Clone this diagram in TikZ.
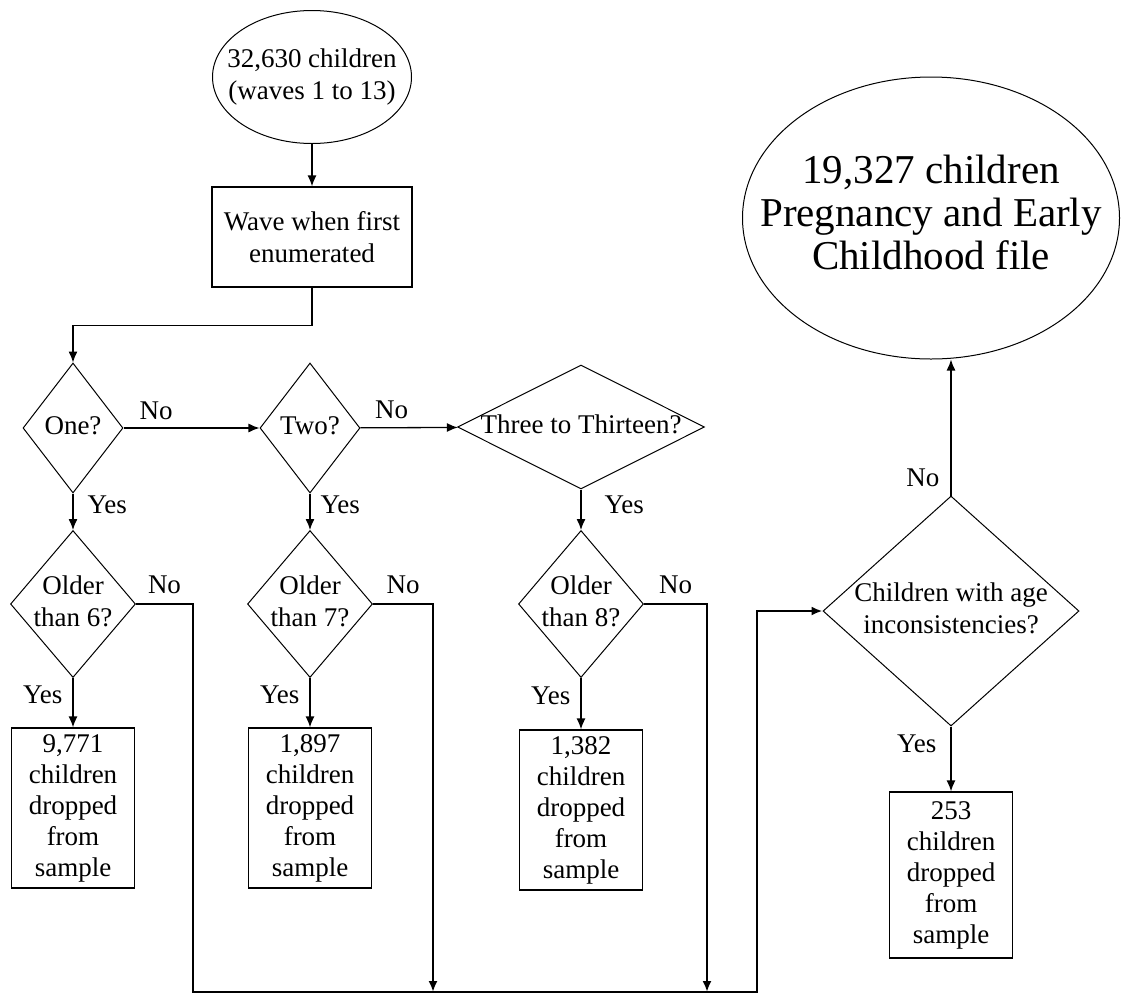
\documentclass[tikz,border=0pt]{standalone}
\usepackage{fontspec}
\setmainfont{Liberation Serif}
\usetikzlibrary{shapes.geometric,arrows.meta}
\definecolor{black}{RGB}{0,0,0}
\newcommand{\flattext}[1]{\makebox[0pt]{\begin{tabular}{@{}c@{}}#1\end{tabular}}}

\begin{document}
\begin{tikzpicture}[x=1pt,y=-1pt,
	every node/.style={font=\fontsize{27}{32}\selectfont},
	decision/.style={diamond,draw=black,line width=1pt,inner sep=0pt},
	process/.style={rectangle,draw=black,line width=1.3pt,align=center,inner sep=2pt},
	dropbox/.style={process,font=\fontsize{27}{31}\selectfont,minimum width=123pt},
	terminal/.style={ellipse,draw=black,line width=1pt,inner sep=0pt},
	tip/.style={-{Latex[length=11pt,width=9pt]}},
	arr/.style={black,line width=1.3pt,tip},
	noline/.style={black,line width=2.4pt},
	lbl/.style={inner sep=3pt}]
	\useasboundingbox (0,0) rectangle (1121,994);

	\node[terminal,minimum width=199pt,minimum height=133pt] (start) at (312,77) {\flattext{32,630 children\\(waves 1 to 13)}};
	\node[process,minimum width=200pt,minimum height=100pt] (wave) at (312,237) {Wave when first\\enumerated};

	\node[decision,minimum width=100pt,minimum height=130pt] (one) at (73,428) {\flattext{One?}};
	\node[decision,minimum width=100pt,minimum height=130pt] (two) at (310,428) {\flattext{Two?}};
	\node[decision,minimum width=247pt,minimum height=124pt] (three) at (581,427) {\flattext{Three to Thirteen?}};

	\node[decision,minimum width=125pt,minimum height=147pt] (older6) at (73,604) {\flattext{Older\\than 6?}};
	\node[decision,minimum width=125pt,minimum height=147pt] (older7) at (310,604) {\flattext{Older\\than 7?}};
	\node[decision,minimum width=125pt,minimum height=147pt] (older8) at (581,604) {\flattext{Older\\than 8?}};

	\node[dropbox,minimum height=160pt] (drop6) at (73,808) {9,771\\children\\dropped\\from\\sample};
	\node[dropbox,minimum height=160pt] (drop7) at (310,808) {1,897\\children\\dropped\\from\\sample};
	\node[dropbox,minimum height=160pt] (drop8) at (581,810) {1,382\\children\\dropped\\from\\sample};

	\node[decision,minimum width=256pt,minimum height=230pt] (age) at (951,611) {\flattext{Children with age\\inconsistencies?}};
	\node[dropbox,minimum height=166pt] (drop9) at (951,875) {253\\children\\dropped\\from\\sample};
	\node[terminal,minimum width=377pt,minimum height=282pt,font=\fontsize{41}{43}\selectfont] (final) at (931,218) {\flattext{19,327 children\\Pregnancy and Early\\Childhood file}};

	\coordinate (join7) at (433,992);
	\coordinate (join8) at (707,992);
	\coordinate (merge) at (757,992);

	\draw[arr] (start) -- (wave);
	\draw[arr] (wave.south) -- ++(0,38) -| (one.north);
	\draw[arr] (one) -- node[lbl,pos=0.24,above=5pt] (no1) {No} (two);
	\draw[arr] (two) -- node[lbl,pos=0.32,above=5pt] (no2) {No} (three);

	\draw[arr] (one) -- node[lbl,pos=0.32,right=11pt] (yes1) {Yes} (older6);
	\draw[arr] (two) -- node[lbl,pos=0.32,right=7pt] (yes2) {Yes} (older7);
	\draw[arr] (three) -- node[lbl,pos=0.37,right=20pt] (yes3) {Yes} (older8);

	\draw[arr] (older6) -- node[lbl,pos=0.35,left=7pt] (yes6) {Yes} (drop6);
	\draw[arr] (older7) -- node[lbl,pos=0.35,left=7pt] (yes7) {Yes} (drop7);
	\draw[arr] (older8) -- node[lbl,pos=0.35,left=7pt] (yes8) {Yes} (drop8);

	\draw[noline,tip] (older6.east) -- node[lbl,above=6pt] (no6) {No} ++(57,0) |- (merge) |- (age.west);
	\draw[noline,tip] (older7.east) -| node[lbl,pos=0.25,above=6pt] (no7) {No} (join7);
	\draw[noline,tip] (older8.east) -| node[lbl,pos=0.25,above=6pt] (no8) {No} (join8);

	\draw[arr] (age) -- node[lbl,pos=0.26,left=11pt] (yes9) {Yes} (drop9);
	\draw[arr] (age.north) -- node[lbl,pos=0.13,left=8pt] (no9) {No} (age.north |- final.south);
\end{tikzpicture}
\end{document}
